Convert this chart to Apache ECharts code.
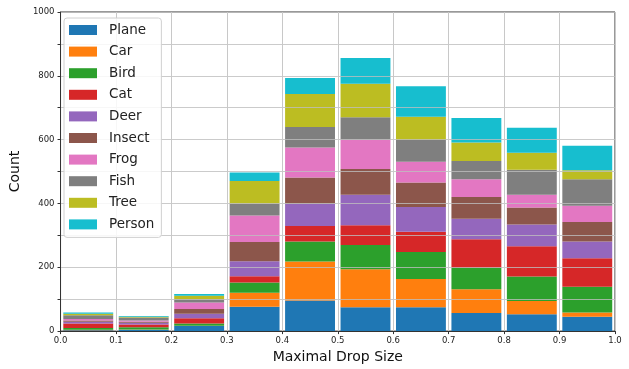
<!DOCTYPE html>
<html>
<head>
<meta charset="utf-8">
<script src="https://cdn.jsdelivr.net/npm/echarts@6/dist/echarts.min.js"></script>
<style>html,body{margin:0;padding:0;background:#fff;}#c{width:629px;height:369px;}</style>
</head>
<body>
<div id="c"></div>
<script>
var bins = ['0.0-0.1', '0.1-0.2', '0.2-0.3', '0.3-0.4', '0.4-0.5', '0.5-0.6', '0.6-0.7', '0.7-0.8', '0.8-0.9', '0.9-1.0'];
var classNames = ['Plane', 'Car', 'Bird', 'Cat', 'Deer', 'Insect', 'Frog', 'Fish', 'Tree', 'Person'];
var plane  = [3, 4, 16, 76, 96, 75, 75, 57, 53, 45];
var car    = [1, 1, 1, 44, 122, 119, 88, 74, 41, 13];
var bird   = [6, 7, 7, 32, 63, 76, 85, 67, 77, 81];
var cat    = [14, 9, 16, 20, 48, 62, 63, 90, 95, 89];
var deer   = [5, 5, 14, 47, 70, 95, 78, 64, 68, 53];
var insect = [4, 3, 15, 60, 82, 81, 77, 68, 53, 61];
var frog   = [5, 4, 21, 83, 94, 92, 65, 56, 40, 51];
var fish   = [12, 10, 10, 37, 65, 70, 68, 57, 79, 83];
var tree   = [4, 2, 11, 71, 103, 105, 73, 58, 53, 28];
var person = [4, 2, 5, 27, 50, 81, 95, 77, 78, 77];
var colors = ['#1f77b4', '#ff7f0e', '#2ca02c', '#d62728', '#9467bd', '#8c564b', '#e377c2', '#7f7f7f', '#bcbd22', '#17becf'];
var allSeries = [plane, car, bird, cat, deer, insect, frog, fish, tree, person];

var chart = echarts.init(document.getElementById('c'), null, {renderer: 'canvas'});
var font = 'DejaVu Sans';
var series = classNames.map(function (name, i) {
  return {
    name: name,
    type: 'bar',
    stack: 'total',
    xAxisIndex: 0,
    barWidth: '90%',
    itemStyle: {color: colors[i]},
    data: allSeries[i]
  };
});

chart.setOption({
  animation: false,
  color: colors,
  grid: {left: 57, right: 14, top: 12, bottom: 35, show: true, borderColor: '#333', borderWidth: 1},
  legend: {
    orient: 'vertical', left: 64, top: 18, z: 10,
    data: classNames,
    icon: 'rect', itemWidth: 28, itemHeight: 10, itemGap: 5.6,
    padding: [4, 7, 5, 5],
    backgroundColor: 'rgba(255,255,255,0.85)',
    borderColor: '#d0d0d0', borderWidth: 1, borderRadius: 3,
    textStyle: {fontFamily: font, fontSize: 13.5, color: '#222', lineHeight: 16, padding: [0, 0, 0, 7]}
  },
  xAxis: [{
    type: 'category', data: bins, boundaryGap: true, show: false
  }, {
    type: 'value', min: 0, max: 1, interval: 0.1, z: 3, position: 'bottom',
    name: 'Maximal Drop Size', nameLocation: 'middle', nameGap: 17,
    nameTextStyle: {fontFamily: font, fontSize: 14, color: '#111'},
    axisLine: {show: true, lineStyle: {color: '#333'}},
    axisTick: {show: true, length: 3, lineStyle: {color: '#333'}},
    axisLabel: {fontFamily: font, fontSize: 8.5, color: '#222', margin: 5, showMinLabel: true, showMaxLabel: true,
      formatter: function (v) { return v.toFixed(1); }},
    splitLine: {show: true, lineStyle: {color: '#c8c8c8', width: 1}}
  }],
  yAxis: {
    type: 'value', min: 0, max: 1000, interval: 100, z: 3,
    name: 'Count', nameLocation: 'middle', nameGap: 33,
    nameTextStyle: {fontFamily: font, fontSize: 14, color: '#111'},
    axisLine: {show: true, lineStyle: {color: '#333'}},
    axisTick: {show: true, length: 3, lineStyle: {color: '#333'}},
    axisLabel: {fontFamily: font, fontSize: 8.5, color: '#222', margin: 6,
      formatter: function (v) { return (Math.round(v) % 200 === 0) ? String(Math.round(v)) : ''; }},
    splitLine: {show: true, lineStyle: {color: 'rgba(190,190,190,0.8)', width: 1}}
  },
  series: series
});
</script>
</body>
</html>
